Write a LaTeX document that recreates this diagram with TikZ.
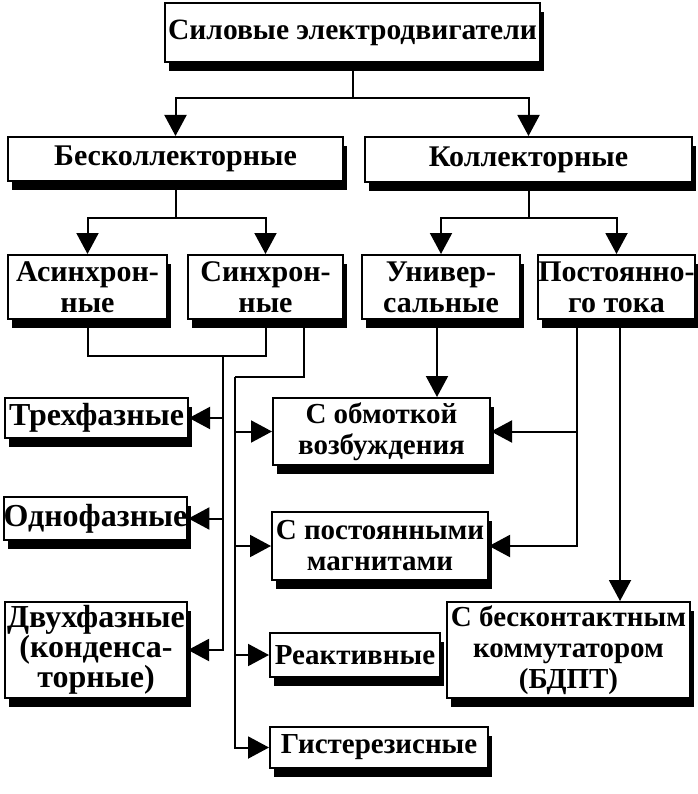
\documentclass[tikz,border=0pt]{standalone}
\usepackage{fontspec}
\setmainfont{Liberation Serif}
\usetikzlibrary{arrows.meta,shadows}
\begin{document}
\begin{tikzpicture}[x=1pt,y=-1pt,
  box/.style={draw, line width=2pt, fill=white, inner sep=0pt, align=center,
    font=\bfseries\fontsize{30}{31}\selectfont,
    drop shadow={shadow xshift=4pt, shadow yshift=-9pt, fill=black, opacity=1}},
  big/.style={font=\bfseries\fontsize{32}{30}\selectfont},
  mid/.style={font=\bfseries\fontsize{29}{31}\selectfont},
  ln/.style={line width=2pt},
  arr/.style={ln, -{Triangle[width=22pt,length=21pt]}}]
\useasboundingbox[fill=white] (0,0) rectangle (697,794);

% level 1
\node[box, minimum width=375pt, minimum height=59pt, font=\bfseries\fontsize{29.5}{32}\selectfont] (top) at (352.5,32.5) {Силовые электродвигатели};
% level 2
\node[box, minimum width=335pt, minimum height=44pt] (besk) at (175.5,159) {Бесколлекторные};
\node[box, minimum width=327pt, minimum height=45pt] (koll) at (528.5,159.5) {Коллекторные};
% level 3
\node[box, minimum width=159pt, minimum height=64pt] (asin) at (87.5,287) {Асинхрон-\\ные};
\node[box, minimum width=155pt, minimum height=64pt] (sin) at (265.5,287) {Синхрон-\\ные};
\node[box, minimum width=158pt, minimum height=64pt] (univ) at (441,287) {Универ-\\сальные};
\node[box, minimum width=151pt, minimum height=64pt] (post) at (616.5,287) {Постоянно-\\го тока};
% level 4 left
\node[box, big, minimum width=183pt, minimum height=40pt] (tri) at (96.5,418) {Трехфазные};
\node[box, big, minimum width=181pt, minimum height=43pt] (odno) at (95.5,518.5) {Однофазные};
\node[box, big, minimum width=182pt, minimum height=96pt] (dvu) at (96,650) {Двухфазные\\(конденса-\\торные)};
% level 4 middle
\node[box, mid, minimum width=217pt, minimum height=67pt] (obm) at (381.5,431.5) {С обмоткой\\возбуждения};
\node[box, mid, minimum width=216pt, minimum height=68pt] (postm) at (380,546) {С постоянными\\магнитами};
\node[box, mid, minimum width=170pt, minimum height=44pt] (reak) at (355,655) {Реактивные};
\node[box, mid, minimum width=218pt, minimum height=41pt] (gist) at (379,747.5) {Гистерезисные};
% level 4 right
\node[box, mid, minimum width=243pt, minimum height=96pt] (bdpt) at (568.5,650) {С бесконтактным\\коммутатором\\(БДПТ)};

% connectors top
\draw[arr] (top.south) -- ++(0,35) -| (besk.north);
\draw[arr] (top.south) -- ++(0,35) -| (koll.north);
\draw[arr] (besk.south) -- ++(0,36) -| (asin.north);
\draw[arr] (besk.south) -- ++(0,36) -| (sin.north);
\draw[arr] (koll.south) -- ++(0,35) -| (univ.north);
\draw[arr] (koll.south) -- ++(0,35) -| (post.north);

% left bus (asynchronous + synchronous)
\draw[ln] (asin.south) -- ++(0,36) -| (sin.south);
\coordinate (bl) at (223,355);
\draw[arr] (bl) |- (dvu.east);
\draw[arr] (bl |- tri.east) -- (tri.east);
\draw[arr] (bl |- odno.east) -- (odno.east);

% right bus (synchronous)
\coordinate (so) at ([xshift=38pt]sin.south);
\coordinate (br) at (235,377);
\draw[ln] (so) |- (br);
\draw[arr] (br) |- (gist.west);
\draw[arr] (br |- obm.west) -- (obm.west);
\draw[arr] (br |- postm.west) -- (postm.west);
\draw[arr] (br |- reak.west) -- (reak.west);

% universal
\coordinate (uo) at ([xshift=-4pt]univ.south);
\draw[arr] (uo) -- (uo |- obm.north);

% DC
\coordinate (p1) at ([xshift=-39.5pt]post.south);
\coordinate (p2) at ([xshift=3.5pt]post.south);
\draw[arr] (p1) |- (postm.east);
\draw[arr] (p1 |- obm.east) -- (obm.east);
\draw[arr] (p2) -- (p2 |- bdpt.north);
\end{tikzpicture}
\end{document}
